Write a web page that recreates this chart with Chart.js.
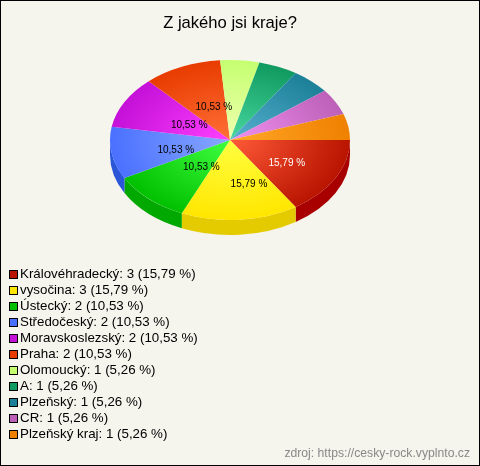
<!DOCTYPE html>
<html>
<head>
<meta charset="utf-8">
<script src="https://cdn.jsdelivr.net/npm/chart.js@4"></script>
<style>
    html, body { margin: 0; padding: 0; background: #f5f5ee; }
    #wrap { position: relative; width: 480px; height: 466px; overflow: hidden; font-family: "Liberation Sans", Arial, sans-serif; }
    #frame { position: absolute; left: 0; top: 0; width: 478px; height: 464px; border: 1px solid #000; pointer-events: none; }
    #legend { position: absolute; left: 9px; top: 266px; margin: 0; padding: 0; list-style: none; font-size: 13.33px; line-height: 16px; color: #000; }
    #legend li { height: 16px; white-space: nowrap; position: relative; padding-left: 11px; }
    #legend i { position: absolute; left: 0; top: 4px; width: 7px; height: 7px; border: 1px solid #000; }
    #source { position: absolute; right: 10px; top: 446px; font-size: 12.2px; line-height: 14px; color: #888; }
</style>
</head>
<body>
<div id="wrap">
    <canvas id="pie" width="480" height="466"></canvas>
    <ul id="legend"></ul>
    <div id="source">zdroj: https://cesky-rock.vyplnto.cz</div>
    <div id="frame"></div>
</div>
<script>
// Data
const categories = ['Královéhradecký', 'vysočina', 'Ústecký', 'Středočeský', 'Moravskoslezský', 'Praha', 'Olomoucký', 'A', 'Plzeňský', 'CR', 'Plzeňský kraj'];
const counts = [3, 3, 2, 2, 2, 2, 1, 1, 1, 1, 1];
const percents = ['15,79', '15,79', '10,53', '10,53', '10,53', '10,53', '5,26', '5,26', '5,26', '5,26', '5,26'];

// Colours: rim of the slice, centre of the slice, side wall
const rimColors = ['#b81400', '#ffe600', '#00c000', '#4a70ff', '#c410d8', '#e83c00', '#c4ff70', '#109a60', '#1c8098', '#bc60b8', '#f08000'];
const hubColors = ['#ff5a38', '#ffff40', '#40ff40', '#88a8ff', '#ff40ff', '#ff7038', '#f0ffb0', '#48d8a0', '#58b0d0', '#f090f0', '#ffa828'];
const wallColors = ['#a80000', '#e3cb00', '#00a800', '#2c56d8', '#9a00a8', '#b82c00', '#98c850', '#087848', '#105868', '#8c4088', '#b86000'];

// Small corrections so the labels sit where the reference has them
const labelShift = [[-5, 0], [5, 0], [3, -6], [-4, 0], [3, 0], [-1, 0]];

const squash = 2 / 3;
const pieCenterY = 140;
const depth = 15;

// Fill the legend
const legend = document.getElementById('legend');
categories.forEach((name, i) => {
    const row = document.createElement('li');
    const box = document.createElement('i');
    box.style.background = rimColors[i];
    row.appendChild(box);
    row.appendChild(document.createTextNode(`${name}: ${counts[i]} (${percents[i]} %)`));
    legend.appendChild(row);
});

// Flattens the pie and draws the side wall under it
const tiltPlugin = {
    id: 'tilt',
    beforeDatasetsDraw(chart) {
        const ctx = chart.ctx;
        const arcs = chart.getDatasetMeta(0).data;
        const midY = arcs[0].y;
        ctx.save();
        ctx.translate(0, pieCenterY - midY * squash);
        ctx.scale(1, squash);

        // wall: only the front half of the pie shows it
        const lift = depth / squash;
        arcs.forEach((arc, i) => {
            const from = Math.max(arc.startAngle, 0);
            const to = Math.min(arc.endAngle, Math.PI);
            if (from >= to) return;
            ctx.beginPath();
            ctx.arc(arc.x, midY, arc.outerRadius, from, to);
            ctx.arc(arc.x, midY + lift, arc.outerRadius, to, from, true);
            ctx.closePath();
            ctx.fillStyle = wallColors[i];
            ctx.fill();
        });
    },
    afterDatasetsDraw(chart) {
        const ctx = chart.ctx;
        ctx.restore();

        // percent labels, only the big slices have one
        const arcs = chart.getDatasetMeta(0).data;
        ctx.font = '10px "Liberation Sans", Arial, sans-serif';
        ctx.textAlign = 'center';
        ctx.textBaseline = 'middle';
        arcs.forEach((arc, i) => {
            if (counts[i] < 2) return;
            const mid = (arc.startAngle + arc.endAngle) / 2;
            const x = arc.x + Math.cos(mid) * arc.outerRadius * 0.5 + 9 + labelShift[i][0];
            const y = pieCenterY + Math.sin(mid) * arc.outerRadius * 0.5 * squash + 4 + labelShift[i][1];
            ctx.fillStyle = i === 0 ? '#fff' : '#000';
            ctx.fillText(`${percents[i]} %`, x, y);
        });
    }
};

// Light at the hub, base colour at the rim
function sliceFill(context) {
    const area = context.chart.chartArea;
    const i = context.dataIndex;
    if (!area || i === undefined) return rimColors[i || 0];
    const x = (area.left + area.right) / 2;
    const y = (area.top + area.bottom) / 2;
    const r = Math.min(area.width, area.height) / 2;
    const grad = context.chart.ctx.createRadialGradient(x, y, 0, x, y, r);
    grad.addColorStop(0, hubColors[i]);
    grad.addColorStop(1, rimColors[i]);
    return grad;
}

new Chart(document.getElementById('pie').getContext('2d'), {
    type: 'pie',
    data: {
        labels: categories,
        datasets: [{
            data: counts,
            backgroundColor: sliceFill,
            borderWidth: 0
        }]
    },
    options: {
        responsive: false,
        animation: false,
        rotation: 90,
        events: [],
        layout: { padding: { left: 110, right: 130, top: 0, bottom: 180 } },
        plugins: {
            legend: { display: false },
            tooltip: { enabled: false },
            title: {
                display: true,
                text: 'Z jakého jsi kraje?',
                color: '#000',
                font: { family: '"Liberation Sans", Arial, sans-serif', size: 16.6, weight: 'normal' },
                padding: { top: 13, bottom: 4 }
            }
        }
    },
    plugins: [tiltPlugin]
});
</script>
</body>
</html>
